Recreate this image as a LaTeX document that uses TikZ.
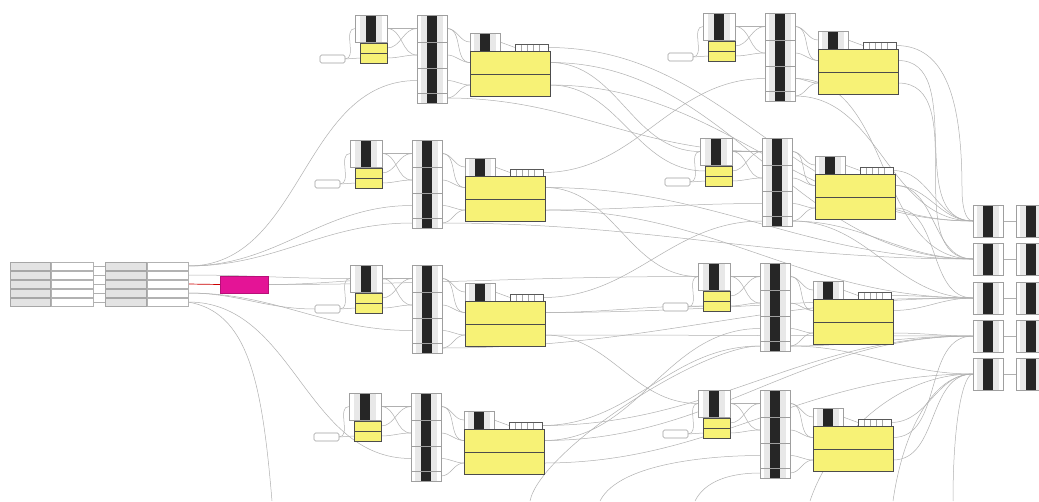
\documentclass[tikz,border=0pt]{standalone}
\usetikzlibrary{calc}
\definecolor{gy}{RGB}{247,242,118}
\definecolor{pk}{RGB}{228,20,150}
\pgfdeclarelayer{bg}
\pgfsetlayers{bg,main}
\tikzset{
  base/.style={inner sep=0pt,outer sep=0pt,anchor=north west},
  bar/.style={base,draw=gray!75,fill=white,line width=0.6pt,
    path picture={
      \fill[gray!18] ([xshift=-11pt]path picture bounding box.north) rectangle ([xshift=11pt]path picture bounding box.south);
      \fill[black!85] ([xshift=-5pt]path picture bounding box.north) rectangle ([xshift=5pt]path picture bounding box.south);
    }},
  ybox/.style={base,draw=gray!60!black,fill=gy,line width=0.5pt},
  slider/.style={base,draw=gray!75,fill=white,rounded corners=1.5pt,line width=0.6pt},
  wbar/.style={base,draw=gray!70!black,fill=white,line width=0.6pt,
    path picture={
      \foreach \d in {-10,-4,2,8}{\draw[gray!70,line width=0.5pt] ([xshift=\d pt]path picture bounding box.north) -- ([xshift=\d pt]path picture bounding box.south);}
      \draw[black!80,line width=1pt] (path picture bounding box.north west) -- (path picture bounding box.north east);
    }},
  lg/.style={base,draw=gray!70,fill=gray!22,line width=0.5pt},
  lw/.style={base,draw=gray!60,fill=white,line width=0.5pt},
  wire/.style={draw=gray!62,line width=0.5pt},
  hw/.style={out=0,in=180},
}
\newcommand\gmod[3]{%
\begin{scope}[shift={(#2,#3)}]
\node[slider,minimum width=25pt,minimum height=8pt] (#1-s) at (320,55) {};
\node[bar,minimum width=32pt,minimum height=27pt] (#1-t) at (355,15) {};
\node[ybox,minimum width=27pt,minimum height=10pt] (#1-y1) at (360,43) {};
\node[ybox,minimum width=27pt,minimum height=10pt] (#1-y2) at (360,53) {};
\node[bar,minimum width=30pt,minimum height=27pt] (#1-c1) at (417,15) {};
\node[bar,minimum width=30pt,minimum height=26pt] (#1-c2) at (417,42) {};
\node[bar,minimum width=30pt,minimum height=25pt] (#1-c3) at (417,68) {};
\node[bar,minimum width=30pt,minimum height=10pt] (#1-c4) at (417,93) {};
\node[bar,minimum width=30pt,minimum height=18pt] (#1-k) at (470,33) {};
\node[wbar,minimum width=33pt,minimum height=7pt] (#1-w) at (515,44) {};
\node[ybox,minimum width=80pt,minimum height=23pt] (#1-b1) at (470,51) {};
\node[ybox,minimum width=80pt,minimum height=22pt] (#1-b2) at (470,74) {};
\end{scope}
\begin{pgfonlayer}{bg}
\draw[wire] (#1-s.east) -- (#1-y2.west);
\draw[wire] (#1-s.east) to[hw] (#1-t.west);
\draw[wire] (#1-t.east) to[hw] (#1-c1.west);
\draw[wire] (#1-t.east) to[hw] (#1-c2.west);
\draw[wire] (#1-y1.east) to[hw] (#1-c1.west);
\draw[wire] (#1-y2.east) to[hw] (#1-c2.west);
\draw[wire] (#1-c1.east) to[hw] (#1-k.west);
\draw[wire] (#1-c1.east) to[hw] (#1-b1.west);
\draw[wire] (#1-c2.east) to[hw] (#1-b1.west);
\draw[wire] (#1-c3.east) to[hw] (#1-b2.west);
\draw[wire] (#1-c4.east) to[hw] (#1-b2.west);
\draw[wire] (#1-k.east) -- (#1-w.west);
\end{pgfonlayer}}
\begin{document}
\begin{tikzpicture}[x=1pt,y=-1pt]
\useasboundingbox (0,0) rectangle (1039,501);
\begin{pgfonlayer}{bg}
\fill[white] (0,0) rectangle (1039,501);
\end{pgfonlayer}
\clip (0,0) rectangle (1039,501);
% modules
\gmod{A}{0}{0}
\gmod{B}{348}{-2}
\gmod{C}{-5}{125}
\gmod{D}{345}{123}
\gmod{E}{-5}{250}
\gmod{F}{343}{248}
\gmod{G}{-6}{378}
\gmod{H}{343}{375}
% left groups
\foreach \i/\yy in {1/262,2/271,3/280,4/289,5/298}{
  \node[lg,minimum width=40pt,minimum height=8pt] (la\i) at (10,\yy) {};
  \node[lw,minimum width=42pt,minimum height=8pt] (lb\i) at (51,\yy) {};
  \node[lg,minimum width=41pt,minimum height=8pt] (lc\i) at (105,\yy) {};
  \node[lw,minimum width=41pt,minimum height=8pt] (ld\i) at (147,\yy) {};
}
\node[base,fill=pk,draw=pk!80!black,minimum width=48pt,minimum height=17pt] (pink) at (220,276) {};
% right columns
\foreach \i/\yy in {1/205,2/243,3/282,4/320,5/358}{
  \node[bar,minimum width=30pt,minimum height=32pt] (r\i) at (973,\yy) {};
  \node[bar,minimum width=30pt,minimum height=32pt] (q\i) at (1016,\yy) {};
}
% free ends at the lower edge
\coordinate (bot1) at (272,501);
\coordinate (bot2) at (530,501);
\coordinate (bot3) at (600,501);
\coordinate (bot4) at (695,501);
\coordinate (bot5) at (810,501);
\coordinate (bot6) at (893,501);
\coordinate (bot7) at (953,501);
\coordinate (lp1) at (962,190);
\begin{pgfonlayer}{bg}
\foreach \i in {1,...,5}{
  \draw[wire] (lb\i.east) -- (lc\i.west);
  \draw[wire] (r\i.east) -- (q\i.west);
}
\draw[red!80!black,line width=0.7pt] (ld3.east) -- (pink.west);
% from the left
\draw[wire] (ld1.east) to[hw] (A-c3.west);
\draw[wire] (ld1.east) to[hw] (C-c3.west);
\draw[wire] (ld1.east) to[hw] (C-c4.west);
\draw[wire] (ld2.east) to[hw] (E-t.west);
\draw[wire] (pink.east) to[hw] (E-c1.west);
\draw[wire] (pink.east) to[hw] (F-t.west);
\draw[wire] (ld4.east) to[hw] (E-c3.west);
\draw[wire] (ld4.east) to[hw] (E-s.west);
\draw[wire] (ld5.east) to[hw] (G-c3.west);
\draw[wire] (ld5.east) .. controls +(60,10) and +(-10,-120) .. (bot1);
% left modules to the right
\draw[wire] (A-b1.east) to[hw] (D-t.west);
\draw[wire] (A-b2.east) to[hw] (D-y1.west);
\draw[wire] (A-b2.east) to[hw] (r1.west);
\draw[wire] (A-b1.east) to[hw] (r2.west);
\draw[wire] (A-w.east) to[hw] (r1.west);
\draw[wire] (A-c4.east) to[hw] (D-c1.west);
\draw[wire] (C-w.east) to[hw] (B-c3.west);
\draw[wire] (C-b1.east) to[hw] (F-t.west);
\draw[wire] (C-b1.east) to[hw] (r2.west);
\draw[wire] (C-b2.east) to[hw] (r3.west);
\draw[wire] (C-b2.east) to[hw] (D-c3.west);
\draw[wire] (C-c4.east) to[hw] (r2.west);
\draw[wire] (E-b1.east) to[hw] (F-y2.west);
\draw[wire] (E-b1.east) to[hw] (r3.west);
\draw[wire] (E-b2.east) to[hw] (H-t.west);
\draw[wire] (E-b2.east) to[hw] (r4.west);
\draw[wire] (E-w.east) to[hw] (D-c4.west);
\draw[wire] (E-c4.east) to[hw] (r3.west);
\draw[wire] (G-b1.east) to[hw] (F-c3.west);
\draw[wire] (G-b1.east) to[hw] (r4.west);
\draw[wire] (G-b2.east) to[hw] (r5.west);
\draw[wire] (G-w.east) to[hw] (F-c4.west);
\draw[wire] (G-w.east) to[hw] (r4.west);
% right modules to the columns
\draw[wire] (B-b1.east) to[hw] (r1.west);
\draw[wire] (B-b2.east) to[hw] (r2.west);
\draw[wire] (B-c4.east) to[hw] (r1.west);
\draw[wire] (B-c3.east) to[hw] (r2.west);
\draw[wire] (B-w.east) .. controls +(50,0) and +(0,-90) .. (lp1) .. controls +(0,15) and +(-8,0) .. (r1.west);
\draw[wire] (D-w.east) to[hw] (r1.west);
\draw[wire] (D-b1.east) to[hw] (r1.west);
\draw[wire] (D-b1.east) to[hw] (r2.west);
\draw[wire] (D-b2.east) to[hw] (r3.west);
\draw[wire] (D-c4.east) to[hw] (r3.west);
\draw[wire] (D-c4.east) to[hw] (r2.west);
\draw[wire] (F-w.east) to[hw] (r3.west);
\draw[wire] (F-b1.east) to[hw] (r3.west);
\draw[wire] (F-b2.east) to[hw] (r4.west);
\draw[wire] (F-c4.east) to[hw] (r5.west);
\draw[wire] (F-c4.east) to[hw] (r4.west);
\draw[wire] (H-w.east) to[hw] (r5.west);
\draw[wire] (H-b1.east) to[hw] (r4.west);
\draw[wire] (H-b2.east) to[hw] (r5.west);
% wires leaving the lower edge
\draw[wire] (bot2) .. controls +(10,-50) and +(-60,0) .. (F-c4.west);
\draw[wire] (bot3) .. controls +(20,-40) and +(-40,0) .. (H-c3.west);
\draw[wire] (bot4) .. controls +(10,-20) and +(-30,0) .. (H-c4.west);
\draw[wire] (bot5) .. controls +(20,-60) and +(-80,0) .. (r5.west);
\draw[wire] (bot6) .. controls +(10,-70) and +(-40,0) .. (r5.west);
\draw[wire] (bot7) .. controls +(0,-80) and +(-10,0) .. (r5.west);
\end{pgfonlayer}
\end{tikzpicture}
\end{document}
